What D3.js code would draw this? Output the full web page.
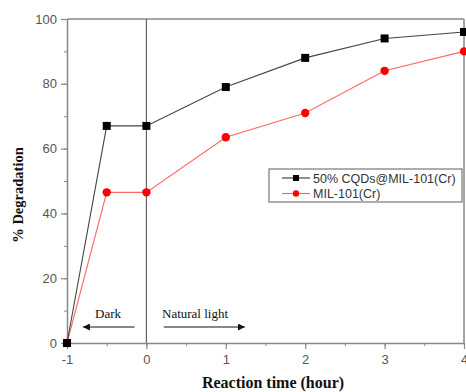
<!DOCTYPE html>
<html>
<head>
<meta charset="utf-8">
<script src="https://cdn.jsdelivr.net/npm/d3@7"></script>
<style>
body { margin: 0; background: #fff; }
</style>
</head>
<body>
<svg id="chart" width="466" height="392"></svg>
<script>
// data
var times = [-1, -0.5, 0, 1, 2, 3, 4];
var cqdValues = [0, 67, 67, 79, 88, 94, 96];
var milValues = [0, 46.5, 46.5, 63.5, 71, 84, 90];
var seriesNames = ["50% CQDs@MIL-101(Cr)", "MIL-101(Cr)"];
var xTicks = [-1, 0, 1, 2, 3, 4];
var yTicks = [0, 20, 40, 60, 80, 100];

var svg = d3.select("#chart");
// plot box (careful: "top" is taken by window.top)
var pLeft = 67, pRight = 464, pTop = 19, pBottom = 343;
var axisColor = "#888";

var x = d3.scaleLinear().domain([-1, 4]).range([pLeft, pRight]);
var y = d3.scaleLinear().domain([0, 100]).range([pBottom, pTop]);

// frame
svg.append("line").attr("x1", pLeft).attr("x2", pRight).attr("y1", pTop).attr("y2", pTop)
	.attr("stroke", axisColor).attr("stroke-width", 1.5);
svg.append("line").attr("x1", pRight).attr("x2", pRight).attr("y1", pTop).attr("y2", pBottom)
	.attr("stroke", axisColor).attr("stroke-width", 1.5);
// dark / light divider
svg.append("line").attr("x1", x(0)).attr("x2", x(0)).attr("y1", pTop).attr("y2", pBottom)
	.attr("stroke", "#666").attr("stroke-width", 1.2);

// minor ticks
var xMinor = d3.range(-1, 4.01, 0.5);
var yMinor = d3.range(0, 100.1, 10);
svg.append("g").attr("transform", "translate(0," + pBottom + ")")
	.call(d3.axisBottom(x).tickValues(xMinor).tickSize(3).tickFormat(""))
	.call(function(g) { g.select(".domain").remove(); g.selectAll("line").attr("stroke", axisColor); });
svg.append("g").attr("transform", "translate(" + pLeft + ",0)")
	.call(d3.axisLeft(y).tickValues(yMinor).tickSize(3).tickFormat(""))
	.call(function(g) { g.select(".domain").remove(); g.selectAll("line").attr("stroke", axisColor); });

// major axes
var plain = function(d) { return String(d); };
var xAxis = svg.append("g").attr("transform", "translate(0," + pBottom + ")")
	.call(d3.axisBottom(x).tickValues(xTicks).tickFormat(plain).tickSize(6).tickSizeOuter(0).tickPadding(6));
var yAxis = svg.append("g").attr("transform", "translate(" + pLeft + ",0)")
	.call(d3.axisLeft(y).tickValues(yTicks).tickFormat(plain).tickSize(6).tickSizeOuter(0).tickPadding(4));
[xAxis, yAxis].forEach(function(g) {
	g.select(".domain").attr("stroke", axisColor).attr("stroke-width", 1.5);
	g.selectAll(".tick line").attr("stroke", axisColor).attr("stroke-width", 1.2);
	g.selectAll("text").attr("font-family", "Liberation Sans, Arial, sans-serif")
		.attr("font-size", "13px").attr("fill", "#555");
});

// series
var series = [
	{ name: seriesNames[0], values: cqdValues, line: "#444", mark: "#000", shape: "square" },
	{ name: seriesNames[1], values: milValues, line: "#ff6666", mark: "#ff0000", shape: "circle" }
];
var line = d3.line().x(function(d) { return x(d[0]); }).y(function(d) { return y(d[1]); });

series.slice().reverse().forEach(function(s) {
	var pts = times.map(function(t, i) { return [t, s.values[i]]; });
	svg.append("path").datum(pts).attr("d", line).attr("fill", "none")
		.attr("stroke", s.line).attr("stroke-width", 1.1);
	var g = svg.append("g");
	pts.forEach(function(p) {
		if (s.shape == "square") {
			g.append("rect").attr("x", x(p[0]) - 4).attr("y", y(p[1]) - 4)
				.attr("width", 8).attr("height", 8).attr("fill", s.mark);
		} else {
			g.append("circle").attr("cx", x(p[0])).attr("cy", y(p[1])).attr("r", 4.2).attr("fill", s.mark);
		}
	});
});

// legend
var legend = svg.append("g");
legend.append("rect").attr("x", 269).attr("y", 169).attr("width", 193).attr("height", 33)
	.attr("fill", "#fff").attr("stroke", "#777").attr("stroke-width", 1.2);
series.forEach(function(s, i) {
	var ly = 178 + i * 15.5;
	legend.append("line").attr("x1", 282).attr("x2", 310).attr("y1", ly).attr("y2", ly)
		.attr("stroke", s.line).attr("stroke-width", 1.2);
	if (s.shape == "square") {
		legend.append("rect").attr("x", 293).attr("y", ly - 3).attr("width", 6).attr("height", 6).attr("fill", s.mark);
	} else {
		legend.append("circle").attr("cx", 296).attr("cy", ly).attr("r", 3.2).attr("fill", s.mark);
	}
	legend.append("text").attr("x", 313).attr("y", ly + 4.5).text(s.name)
		.attr("font-family", "Liberation Sans, Arial, sans-serif").attr("font-size", "12.5px").attr("fill", "#333");
});

// annotations
var serif = "Liberation Serif, Times New Roman, serif";
svg.append("defs").append("marker").attr("id", "arrow").attr("viewBox", "0 0 10 10")
	.attr("refX", 10).attr("refY", 5).attr("markerWidth", 7).attr("markerHeight", 7)
	.attr("markerUnits", "userSpaceOnUse").attr("orient", "auto")
	.append("path").attr("d", "M0,0 L10,5 L0,10 z").attr("fill", "#111");
svg.append("line").attr("x1", x(-0.15)).attr("x2", x(-0.8)).attr("y1", 327).attr("y2", 327)
	.attr("stroke", "#111").attr("stroke-width", 1).attr("marker-end", "url(#arrow)");
svg.append("line").attr("x1", x(0.22)).attr("x2", x(1.24)).attr("y1", 327).attr("y2", 327)
	.attr("stroke", "#111").attr("stroke-width", 1).attr("marker-end", "url(#arrow)");
svg.append("text").attr("x", 95).attr("y", 318).text("Dark")
	.attr("font-family", serif).attr("font-size", "13px").attr("fill", "#111");
svg.append("text").attr("x", 162).attr("y", 318).text("Natural light")
	.attr("font-family", serif).attr("font-size", "13px").attr("fill", "#111");

// axis titles
svg.append("text").attr("x", 273).attr("y", 388).attr("text-anchor", "middle")
	.text("Reaction time (hour)").attr("font-family", serif).attr("font-weight", "bold")
	.attr("font-size", "16px").attr("fill", "#111");
svg.append("text").attr("transform", "translate(23,195) rotate(-90)").attr("text-anchor", "middle")
	.text("% Degradation").attr("font-family", serif).attr("font-weight", "bold")
	.attr("font-size", "14.5px").attr("fill", "#111");
</script>
</body>
</html>
